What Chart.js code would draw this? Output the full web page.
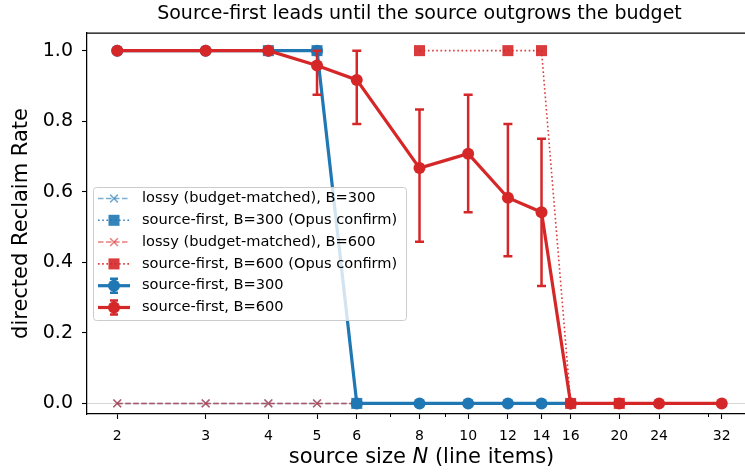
<!DOCTYPE html>
<html>
<head>
<meta charset="utf-8">
<script src="https://cdn.jsdelivr.net/npm/chart.js@4.4.1/dist/chart.umd.min.js"></script>
<style>
  html, body { margin: 0; padding: 0; background: #fff; overflow: hidden; }
  #wrap { width: 760px; height: 472px; }
</style>
</head>
<body>
<div id="wrap"><canvas id="myChart"></canvas></div>
<script>
// axis ticks
const xTicks = [2, 3, 4, 5, 6, 8, 10, 12, 14, 16, 20, 24, 32];
const minorTicks = [7, 9, 30];
const yTicks = [0, 0.2, 0.4, 0.6, 0.8, 1.0];

// lossy (budget-matched)
const lossyN = [2, 3, 4, 5, 6];
const lossy300 = [0, 0, 0, 0, 0];
const lossy600 = [0, 0, 0, 0, 0];

// source-first, Opus confirm runs
const opus300N = [4, 5, 6];
const opus300 = [1, 1, 0];
const opus600N = [8, 12, 14, 16, 20];
const opus600 = [1, 1, 1, 0, 0];

// source-first main runs
const sf300N = [2, 3, 4, 5, 6, 8, 10, 12, 14, 16];
const sf300 = [1, 1, 1, 1, 0, 0, 0, 0, 0, 0];

const sf600N = [2, 3, 4, 5, 6, 8, 10, 12, 14, 16, 20, 24, 32];
const sf600 = [1, 1, 1, 0.958, 0.917, 0.667, 0.708, 0.583, 0.542, 0, 0, 0, 0];
const sf600Lo = [1, 1, 1, 0.875, 0.792, 0.458, 0.542, 0.417, 0.333, 0, 0, 0, 0];
const sf600Hi = [1, 1, 1, 1, 1, 0.833, 0.875, 0.792, 0.75, 0, 0, 0, 0];

const BLUE = '#1f77b4';
const RED = '#d62728';
const FONT = "'DejaVu Sans', 'Liberation Sans', sans-serif";

const pts = (xs, ys) => xs.map((x, i) => ({ x: x, y: ys[i] }));

const datasets = [
  {
    label: 'lossy (budget-matched), B=300',
    data: pts(lossyN, lossy300),
    borderColor: 'rgba(31,119,180,0.6)', backgroundColor: 'rgba(31,119,180,0.6)',
    borderWidth: 1.5, borderDash: [5.5, 2.5],
    pointStyle: 'crossRot', pointRadius: 5.5, pointBorderWidth: 1.5,
    order: 5, kind: 'lossy'
  },
  {
    label: 'source-first, B=300 (Opus confirm)',
    data: pts(opus300N, opus300),
    borderColor: 'rgba(31,119,180,0.9)', backgroundColor: 'rgba(31,119,180,0.9)',
    borderWidth: 1.6, borderDash: [1.6, 2.6],
    pointStyle: 'rect', pointRadius: 7.8, pointBorderWidth: 0,
    order: 4, kind: 'opus'
  },
  {
    label: 'lossy (budget-matched), B=600',
    data: pts(lossyN, lossy600),
    borderColor: 'rgba(214,39,40,0.6)', backgroundColor: 'rgba(214,39,40,0.6)',
    borderWidth: 1.5, borderDash: [5.5, 2.5],
    pointStyle: 'crossRot', pointRadius: 5.5, pointBorderWidth: 1.5,
    order: 3, kind: 'lossy'
  },
  {
    label: 'source-first, B=600 (Opus confirm)',
    data: pts(opus600N, opus600),
    borderColor: 'rgba(214,39,40,0.9)', backgroundColor: 'rgba(214,39,40,0.9)',
    borderWidth: 1.6, borderDash: [1.6, 2.6],
    pointStyle: 'rect', pointRadius: 7.8, pointBorderWidth: 0,
    order: 2, kind: 'opus'
  },
  {
    label: 'source-first, B=300',
    data: pts(sf300N, sf300),
    borderColor: BLUE, backgroundColor: BLUE,
    borderWidth: 3.2, pointStyle: 'circle', pointRadius: 6, pointBorderWidth: 0,
    order: 1, kind: 'main'
  },
  {
    label: 'source-first, B=600',
    data: pts(sf600N, sf600),
    borderColor: RED, backgroundColor: RED,
    borderWidth: 3.2, pointStyle: 'circle', pointRadius: 6, pointBorderWidth: 0,
    order: 0, kind: 'main'
  }
];
const errIndex = 5;

// error bars for the B=600 main series, drawn just under its line
const errorBars = {
  id: 'errorBars',
  beforeDatasetDraw(chart, args) {
    if (args.index !== errIndex) return;
    const { ctx, scales } = chart;
    ctx.save();
    ctx.strokeStyle = RED;
    ctx.lineWidth = 2.5;
    sf600N.forEach((n, i) => {
      if (sf600Hi[i] - sf600Lo[i] <= 0) return;
      const x = scales.x.getPixelForValue(n);
      const y0 = scales.y.getPixelForValue(sf600Lo[i]);
      const y1 = scales.y.getPixelForValue(sf600Hi[i]);
      ctx.beginPath();
      ctx.moveTo(x, y0); ctx.lineTo(x, y1);
      ctx.moveTo(x - 4.5, y0); ctx.lineTo(x + 4.5, y0);
      ctx.moveTo(x - 4.5, y1); ctx.lineTo(x + 4.5, y1);
      ctx.stroke();
    });
    ctx.restore();
  }
};

function drawMarker(ctx, style, x, y, r, color) {
  ctx.fillStyle = color;
  ctx.strokeStyle = color;
  if (style === 'circle') {
    ctx.beginPath(); ctx.arc(x, y, r, 0, Math.PI * 2); ctx.fill();
  } else if (style === 'rect') {
    const s = r * Math.SQRT1_2;
    ctx.fillRect(x - s, y - s, 2 * s, 2 * s);
  } else {
    const s = r * Math.SQRT1_2;
    ctx.lineWidth = 1.5; ctx.setLineDash([]);
    ctx.beginPath();
    ctx.moveTo(x - s, y - s); ctx.lineTo(x + s, y + s);
    ctx.moveTo(x - s, y + s); ctx.lineTo(x + s, y - s);
    ctx.stroke();
  }
}

const decor = {
  id: 'decor',
  afterDraw(chart) {
    const { ctx, chartArea: a, scales } = chart;
    ctx.save();

    // top spine
    ctx.strokeStyle = '#000';
    ctx.lineWidth = 1.25;
    ctx.beginPath(); ctx.moveTo(a.left, a.top); ctx.lineTo(a.right, a.top); ctx.stroke();

    // minor x ticks
    ctx.lineWidth = 1;
    minorTicks.forEach(v => {
      const x = Math.round(scales.x.getPixelForValue(v)) + 0.5;
      ctx.beginPath(); ctx.moveTo(x, a.bottom); ctx.lineTo(x, a.bottom + 3); ctx.stroke();
    });

    // title
    const cx = (a.left + a.right) / 2;
    ctx.fillStyle = '#000';
    ctx.textBaseline = 'middle';
    ctx.textAlign = 'center';
    ctx.font = '19px ' + FONT;
    ctx.fillText('Source-first leads until the source outgrows the budget', cx, 14);

    // x title with italic N
    const parts = [['source size ', ''], ['N', 'italic '], [' (line items)', '']];
    const fs = 21;
    let total = 0;
    parts.forEach(p => { ctx.font = p[1] + fs + 'px ' + FONT; total += ctx.measureText(p[0]).width; });
    let px = cx - total / 2 + 2;
    ctx.textAlign = 'left';
    parts.forEach(p => {
      ctx.font = p[1] + fs + 'px ' + FONT;
      ctx.fillText(p[0], px, 458);
      px += ctx.measureText(p[0]).width;
    });

    // y title
    ctx.save();
    ctx.translate(22, (a.top + a.bottom) / 2);
    ctx.rotate(-Math.PI / 2);
    ctx.textAlign = 'center';
    ctx.font = '21px ' + FONT;
    ctx.fillText('directed Reclaim Rate', 0, 0);
    ctx.restore();

    // legend
    const lx = 93, ly = 187, lw = 313, lh = 133;
    ctx.beginPath();
    ctx.roundRect(lx + 0.5, ly + 0.5, lw, lh, 3);
    ctx.fillStyle = 'rgba(255,255,255,0.8)';
    ctx.fill();
    ctx.strokeStyle = '#cccccc';
    ctx.lineWidth = 1;
    ctx.stroke();

    const hx0 = 98, hx1 = 130, hm = 114;
    datasets.forEach((d, i) => {
      const y = ly + 11.5 + i * 21.8;
      ctx.strokeStyle = d.borderColor;
      ctx.lineWidth = d.borderWidth;
      ctx.setLineDash(d.borderDash || []);
      ctx.beginPath(); ctx.moveTo(hx0, y); ctx.lineTo(hx1, y); ctx.stroke();
      ctx.setLineDash([]);
      if (d.kind === 'main') {
        ctx.lineWidth = 2.5;
        ctx.beginPath();
        ctx.moveTo(hm, y - 7); ctx.lineTo(hm, y + 7);
        ctx.moveTo(hm - 4, y - 7); ctx.lineTo(hm + 4, y - 7);
        ctx.moveTo(hm - 4, y + 7); ctx.lineTo(hm + 4, y + 7);
        ctx.stroke();
      }
      drawMarker(ctx, d.pointStyle, hm, y, d.pointRadius, d.borderColor);
      ctx.fillStyle = '#000';
      ctx.textAlign = 'left';
      ctx.font = '14.6px ' + FONT;
      ctx.fillText(d.label, 142, y);
    });

    ctx.restore();
  }
};

new Chart(document.getElementById('myChart'), {
  type: 'line',
  data: { datasets: datasets },
  options: {
    animation: false,
    responsive: true,
    maintainAspectRatio: false,
    devicePixelRatio: 1,
    layout: { padding: { top: 33, right: 8, left: 0, bottom: 0 } },
    elements: { line: { tension: 0 } },
    plugins: { legend: { display: false }, tooltip: { enabled: false }, title: { display: false } },
    scales: {
      x: {
        type: 'logarithmic',
        min: 1.741,
        max: 36.76,
        afterBuildTicks: s => { s.ticks = xTicks.map(v => ({ value: v })); },
        afterFit: s => { s.height = 58; },
        ticks: {
          autoSkip: false, maxRotation: 0, padding: 9, color: '#000',
          font: { family: FONT, size: 14 },
          callback: v => xTicks.includes(v) ? String(v) : ''
        },
        grid: { drawOnChartArea: false, tickLength: 5, tickColor: '#000', tickWidth: 1.1 },
        border: { color: '#000', width: 1.25 }
      },
      y: {
        min: -0.03,
        max: 1.05,
        afterBuildTicks: s => { s.ticks = yTicks.map(v => ({ value: v })); },
        afterFit: s => { s.width = 87; },
        ticks: {
          padding: 9, color: '#000',
          font: { family: FONT, size: 19 },
          callback: v => v.toFixed(1)
        },
        grid: {
          color: c => (c.tick && c.tick.value === 0) ? '#d8d8d8' : 'rgba(0,0,0,0)',
          lineWidth: 1, tickLength: 5, tickColor: '#000', tickWidth: 1.1
        },
        border: { color: '#000', width: 1.25 }
      }
    }
  },
  plugins: [errorBars, decor]
});
</script>
</body>
</html>
